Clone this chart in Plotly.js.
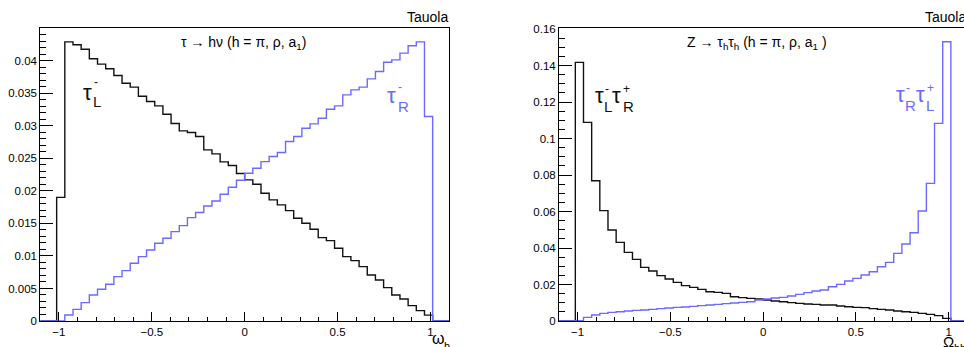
<!DOCTYPE html>
<html><head><meta charset="utf-8">
<script src="https://cdn.plot.ly/plotly-3.0.1.min.js"></script>
<style>html,body{margin:0;padding:0;overflow:hidden;background:#fff;width:964px;height:347px;} #chart{width:968px;height:347px;}</style>
</head><body><div id="chart"></div>
<script>
// Histogram binning: 50 bins on [-1.1, 1.1]
const binLow = -1.1;
const binHigh = 1.1;
const nBins = 50;

// Left panel: tau -> h nu, omega_h distribution
const tauL = [0, 0, 0.0190, 0.04292, 0.04246, 0.04179, 0.04031, 0.03949, 0.03877, 0.03774,
  0.03656, 0.03595, 0.03456, 0.03374, 0.03308, 0.03179, 0.03036, 0.02923, 0.02897, 0.02836,
  0.02631, 0.02569, 0.02446, 0.02390, 0.02267, 0.02169, 0.02103, 0.01964, 0.01862, 0.01785,
  0.01697, 0.01579, 0.01503, 0.01410, 0.01282, 0.01236, 0.01118, 0.00990, 0.00928, 0.00836,
  0.00708, 0.00631, 0.00513, 0.00400, 0.00338, 0.00236, 0.0016, 0.0009, 0, 0];
const tauR = [0, 0, 0, 0.00092, 0.00179, 0.00282, 0.00400, 0.00487, 0.00564, 0.00682,
  0.00774, 0.00887, 0.00990, 0.01092, 0.01195, 0.01272, 0.01374, 0.01467, 0.01590, 0.01667,
  0.01769, 0.01846, 0.01949, 0.02056, 0.02164, 0.02272, 0.02349, 0.02451, 0.02528, 0.02590,
  0.02759, 0.02836, 0.02964, 0.03031, 0.03118, 0.03256, 0.03308, 0.03477, 0.03554, 0.03595,
  0.03723, 0.03836, 0.03979, 0.04015, 0.04118, 0.04231, 0.04292, 0.03144, 0, 0];

// Right panel: Z -> tau_h tau_h, Omega_hh distribution
const tauLtauR = [0, 0, 0.14174, 0.10886, 0.07689, 0.06046, 0.04986, 0.04311, 0.03763, 0.03379,
  0.02941, 0.02740, 0.02484, 0.02301, 0.02119, 0.01936, 0.01845, 0.01735, 0.01607, 0.01571,
  0.01516, 0.01333, 0.01279, 0.01242, 0.01205, 0.01151, 0.01096, 0.01059, 0.01005, 0.00968,
  0.00932, 0.00913, 0.00877, 0.00877, 0.00822, 0.00785, 0.00749, 0.00731, 0.00676, 0.00639,
  0.00603, 0.00548, 0.00511, 0.00475, 0.00420, 0.00365, 0.00292, 0.00146, 0, 0];
const tauRtauL = [0, 0, 0.0002, 0.00201, 0.00329, 0.00420, 0.00475, 0.00511, 0.00548, 0.00584,
  0.00603, 0.00639, 0.00676, 0.00712, 0.00749, 0.00767, 0.00804, 0.00840, 0.00877, 0.00913,
  0.00950, 0.00986, 0.01023, 0.01059, 0.01151, 0.01205, 0.01260, 0.01297, 0.01370, 0.01461,
  0.01553, 0.01644, 0.01699, 0.01881, 0.02009, 0.02192, 0.02338, 0.02521, 0.02703, 0.02977,
  0.03215, 0.03708, 0.04219, 0.04840, 0.06027, 0.07543, 0.10831, 0.15306, 0, 0];

const xTickVals = [-1, -0.5, 0, 0.5, 1];
const yTickLeft = [0, 0.005, 0.01, 0.015, 0.02, 0.025, 0.03, 0.035, 0.04];
const yTickRight = [0, 0.02, 0.04, 0.06, 0.08, 0.1, 0.12, 0.14, 0.16];

const W = 968, H = 347;
const FONT = 'Liberation Sans, Arial, Helvetica, sans-serif';
const BLUE = '#6a6aff';

const edges = [];
for (let i = 0; i <= nBins; i++) edges.push(binLow + (binHigh - binLow) * i / nBins);
function stepY(v) { return v.concat([v[v.length - 1]]); }

function trace(vals, xa, ya, color) {
  return {x: edges, y: stepY(vals), xaxis: xa, yaxis: ya, type: 'scatter', mode: 'lines',
    line: {shape: 'hv', color: color, width: 1.4}, hoverinfo: 'skip', showlegend: false};
}
const data = [
  trace(tauL, 'x', 'y', '#111'),
  trace(tauR, 'x', 'y', BLUE),
  trace(tauLtauR, 'x2', 'y2', '#111'),
  trace(tauRtauL, 'x2', 'y2', BLUE)
];

const px = v => v / W;
const py = v => 1 - v / H;
const yDom = [py(321), py(28.3)];

function xax(dom, anchor) {
  return {domain: dom, anchor: anchor, range: [binLow, binHigh], tickvals: xTickVals,
    ticks: 'inside', ticklen: 9, tickwidth: 1, tickcolor: '#000',
    minor: {dtick: 0.1, tick0: 0, ticks: 'inside', ticklen: 4.5, tickwidth: 1, tickcolor: '#000'},
    showline: true, mirror: true, linecolor: '#000', linewidth: 1,
    showgrid: false, zeroline: false, tickfont: {family: FONT, size: 11.5, color: '#000'}};
}
function yax(range, tv, minorD, anchor) {
  return {domain: yDom, anchor: anchor, range: range, tickvals: tv,
    ticks: 'inside', ticklen: 12.5, tickwidth: 1, tickcolor: '#000',
    minor: {dtick: minorD, tick0: 0, ticks: 'inside', ticklen: 6, tickwidth: 1, tickcolor: '#000'},
    showline: true, mirror: true, linecolor: '#000', linewidth: 1,
    showgrid: false, zeroline: false, tickfont: {family: FONT, size: 11.5, color: '#000'}};
}

const ann = [];
function piece(text, xLeft, baseline, size, color) {
  ann.push({xref: 'paper', yref: 'paper', x: px(xLeft), y: py(baseline - 0.3465 * size),
    xanchor: 'left', yanchor: 'middle', text: text, showarrow: false, borderpad: 0,
    font: {family: FONT, size: size, color: color}});
}
function centered(text, xc, yc, size, color) {
  ann.push({xref: 'paper', yref: 'paper', x: px(xc), y: py(yc), xanchor: 'center', yanchor: 'middle',
    text: text, showarrow: false, borderpad: 0, font: {family: FONT, size: size, color: color}});
}
function rightAl(text, xr, yc, size, color) {
  ann.push({xref: 'paper', yref: 'paper', x: px(xr), y: py(yc), xanchor: 'right', yanchor: 'middle',
    text: text, showarrow: false, borderpad: 0, font: {family: FONT, size: size, color: color}});
}

// "Tauola" labels
rightAl('Tauola', 449, 17, 14, '#000');
rightAl('Tauola', 967, 17, 14, '#000');
// Panel titles
centered('τ → hν (h = π, ρ, a<sub>1</sub>)', 243.5, 43, 14, '#000');
centered('Z → τ<sub>h</sub>τ<sub>h</sub> (h = π, ρ, a<sub>1</sub> )', 756.5, 43, 14, '#000');
// Curve labels (left)
piece('τ', 82, 100, 22, '#111'); piece('L', 92, 106.5, 15, '#111'); piece('-', 92.5, 86, 12, '#111');
piece('τ', 386, 103, 22, BLUE); piece('R', 396.5, 111.5, 15, BLUE); piece('-', 397, 91, 12, BLUE);
// Curve labels (right)
piece('τ', 594, 103, 22, '#111'); piece('L', 602.5, 111.5, 15, '#111'); piece('-', 603.5, 93, 12, '#111');
piece('τ', 611, 103, 22, '#111'); piece('R', 621.5, 111.5, 15, '#111'); piece('+', 621.5, 93, 12, '#111');
piece('τ', 895, 102.5, 22, BLUE); piece('R', 904, 110.5, 15, BLUE); piece('-', 904.5, 92, 12, BLUE);
piece('τ', 914.5, 102.5, 22, BLUE); piece('L', 925, 110.5, 15, BLUE); piece('+', 926, 92, 12, BLUE);
// Axis titles
piece('ω', 431, 344, 16, '#000'); piece('h', 443, 350, 11, '#000');
piece('Ω', 941.5, 347, 15, '#000'); piece('hh', 953, 352, 11, '#000');

const layout = {
  width: W, height: H, margin: {l: 0, r: 0, t: 0, b: 0}, paper_bgcolor: '#fff', plot_bgcolor: '#fff',
  showlegend: false,
  xaxis: xax([px(40.3), px(449)], 'y'),
  yaxis: yax([0, 0.045], yTickLeft, 0.001, 'x'),
  xaxis2: xax([px(559), px(967.2)], 'y2'),
  yaxis2: yax([0, 0.1604], yTickRight, 0.005, 'x2'),
  annotations: ann
};
Plotly.newPlot('chart', data, layout, {staticPlot: true, displayModeBar: false});
</script>
</body></html>
